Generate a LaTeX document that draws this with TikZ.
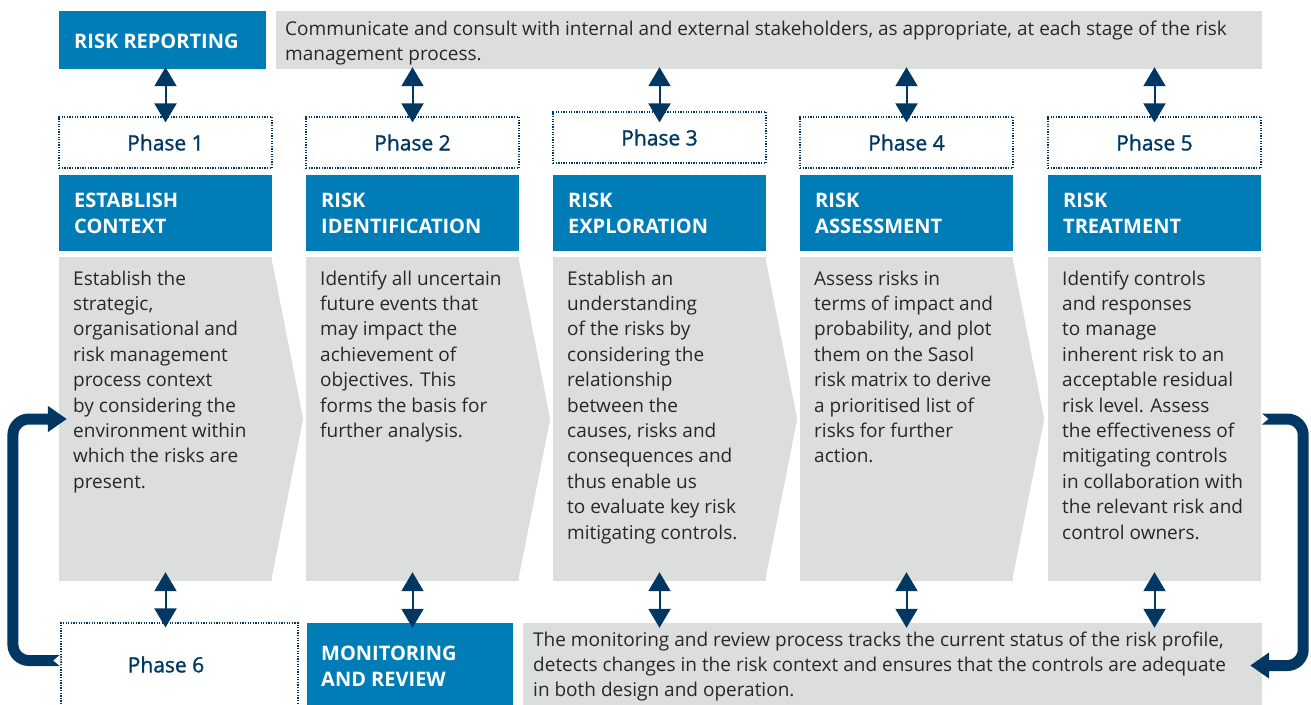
\documentclass[tikz,border=0pt]{standalone}
\usepackage{fontspec}
\setmainfont{Open Sans}
\newfontfamily\phasefam[FakeBold=1.3]{Open Sans}
\usetikzlibrary{arrows.meta,calc}
\definecolor{sblue}{RGB}{0,125,183}
\definecolor{sgrey}{RGB}{220,221,221}
\definecolor{snavy}{RGB}{0,56,99}
\definecolor{stext}{RGB}{40,40,40}
\newcommand\bodyfont{\fontsize{19}{25.4}\selectfont}
\newcommand\headfont{\fontsize{20}{26}\selectfont\bfseries}
\newcommand\phfont{\phasefam\fontsize{21}{24}\selectfont}
\newcommand\tbox[2]{\parbox[t]{#1}{\raggedright #2}}
\begin{document}
\begin{tikzpicture}[x=1pt,y=-1pt,
 bluebox/.style={fill=sblue, inner sep=0pt, minimum width=213pt, minimum height=76pt},
 phasebox/.style={draw=snavy, line width=1.2pt, dash pattern=on 1.3pt off 1.3pt, fill=white, inner sep=0pt, minimum width=213pt, minimum height=51pt, font=\phfont, text=snavy},
 phaselabel/.style={inner sep=0pt, font=\phfont, text=snavy},
 panel/.style={fill=sgrey, inner sep=0pt, minimum width=213pt, minimum height=324pt},
 bodytext/.style={anchor=base west, inner sep=0pt, font=\bodyfont, text=stext},
 headtext/.style={anchor=base west, inner sep=0pt, font=\headfont, text=white},
 dblarrow/.style={snavy, line width=2pt, {Triangle[width=22pt,length=19pt]}-{Triangle[width=22pt,length=19pt]}},
 looparrow/.style={snavy, line width=11pt, rounded corners=16pt, -{Triangle[width=25pt,length=19pt]}},
 notch/.style={fill=white}]
\useasboundingbox (0,0) rectangle (1311,704);

% top row
\node[fill=sblue, inner sep=0pt, minimum width=207pt, minimum height=58pt] (rr) at (162.5,40) {};
\node[headtext] (rrt) at (74,48) {RISK REPORTING};
\node[fill=sgrey, inner sep=0pt, minimum width=986pt, minimum height=58pt] (cb) at (769,40) {};
\node[bodytext] (cbt) at (285,35) {\tbox{975pt}{Communicate and consult with internal and external stakeholders, as appropriate, at each stage of the risk\\management process.}};

% phase boxes
\node[phasebox] (p1) at (165.5,142.5) {Phase 1};
\node[phasebox] (p2) at (412.5,142.5) {Phase 2};
\node[phasebox] (p3) at (659.5,137.5) {Phase 3};
\node[phasebox] (p4) at (906.5,142.5) {Phase 4};
\node[phasebox] (p5) at (1154.5,142.5) {Phase 5};

% heading boxes
\node[bluebox] (h1) at (165.5,213) {};
\node[bluebox] (h2) at (412.5,213) {};
\node[bluebox] (h3) at (659.5,213) {};
\node[bluebox] (h4) at (906.5,213) {};
\node[bluebox] (h5) at (1154.5,213) {};
\node[headtext] (h1t) at (74,207) {\tbox{200pt}{ESTABLISH\\CONTEXT}};
\node[headtext] (h2t) at (321,207) {\tbox{200pt}{RISK\\IDENTIFICATION}};
\node[headtext] (h3t) at (568,207) {\tbox{200pt}{RISK\\EXPLORATION}};
\node[headtext] (h4t) at (815,207) {\tbox{200pt}{RISK\\ASSESSMENT}};
\node[headtext] (h5t) at (1063,207) {\tbox{200pt}{RISK\\TREATMENT}};

% panels
\node[panel] (g1) at (165.5,419) {};
\node[panel] (g2) at (412.5,419) {};
\node[panel] (g3) at (659.5,419) {};
\node[panel] (g4) at (906.5,419) {};
\node[panel] (g5) at (1154.5,419) {};
\foreach \g in {g1,g2,g3,g4}{
  \fill[sgrey] ([yshift=-5pt]\g.north east) -- ([xshift=31pt]\g.east) -- ([yshift=6pt]\g.south east) -- cycle;
}
\node[bodytext] (b1) at (73,285) {\tbox{230pt}{Establish the\\strategic,\\organisational and\\risk management\\process context\\by considering the\\environment within\\which the risks are\\present.}};
\node[bodytext] (b2) at (320,285) {\tbox{230pt}{Identify all uncertain\\future events that\\may impact the\\achievement of\\objectives. This\\forms the basis for\\further analysis.}};
\node[bodytext] (b3) at (567,285) {\tbox{230pt}{Establish an\\understanding\\of the risks by\\considering the\\relationship\\between the\\causes, risks and\\consequences and\\thus enable us\\to evaluate key risk\\mitigating controls.}};
\node[bodytext] (b4) at (814,285) {\tbox{230pt}{Assess risks in\\terms of impact and\\probability, and plot\\them on the Sasol\\risk matrix to derive\\a prioritised list of\\risks for further\\action.}};
\node[bodytext] (b5) at (1062,285) {\tbox{230pt}{Identify controls\\and responses\\to manage\\inherent risk to an\\acceptable residual\\risk level. Assess\\the effectiveness of\\mitigating controls\\in collaboration with\\the relevant risk and\\control owners.}};

% bottom row
\node[phasebox, minimum width=237pt, minimum height=83pt] (p6) at (179.5,664.5) {};
\node[phaselabel] (p6t) at (166,664.5) {Phase 6};
\node[fill=sblue, inner sep=0pt, minimum width=206pt, minimum height=83pt] (mon) at (410,664.5) {};
\node[headtext] (mont) at (321,660) {\tbox{190pt}{MONITORING\\AND REVIEW}};
\node[fill=sgrey, inner sep=0pt, minimum width=739pt, minimum height=83pt] (bb) at (892.5,664.5) {};
\node[bodytext] (bbt) at (533,646) {\tbox{735pt}{The monitoring and review process tracks the current status of the risk profile,\\detects changes in the risk context and ensures that the controls are adequate\\in both design and operation.}};

% top arrows
\draw[dblarrow] ([yshift=2pt]rr.south -| p1.north) -- ([yshift=-6pt]p1.north);
\draw[dblarrow] ([yshift=2pt]cb.south -| p2.north) -- ([yshift=-6pt]p2.north);
\draw[dblarrow] ([yshift=2pt]cb.south -| p3.north) -- ([yshift=-11pt]p3.north);
\draw[dblarrow] ([yshift=2pt]cb.south -| p4.north) -- ([yshift=-6pt]p4.north);
\draw[dblarrow] ([yshift=2pt]cb.south -| p5.north) -- ([yshift=-6pt]p5.north);

% bottom arrows
\draw[dblarrow] ([yshift=9pt]g1.south) -- ([yshift=-5pt]g1.south |- p6.north);
\draw[dblarrow] ([yshift=9pt]g2.south) -- ([yshift=-5pt]g2.south |- mon.north);
\draw[dblarrow] ([yshift=9pt]g3.south) -- ([yshift=-5pt]g3.south |- bb.north);
\draw[dblarrow] ([yshift=9pt]g4.south) -- ([yshift=-5pt]g4.south |- bb.north);
\draw[dblarrow] ([yshift=9pt]g5.south) -- ([yshift=-5pt]g5.south |- bb.north);

% loop arrows
\draw[looparrow] ([yshift=4pt]p6.west) -- ++(-47.5,0) |- ([xshift=8pt]g1.west);
\fill[notch] ([yshift=10pt]p6.west) -- ([xshift=-7pt,yshift=4pt]p6.west) -- ([yshift=-2pt]p6.west) -- cycle;
\draw[looparrow] (g5.east) -- ++(42,0) |- ([xshift=-12pt,yshift=-1pt]bb.east);
\fill[notch] ([yshift=6pt]g5.east) -- ([xshift=7pt]g5.east) -- ([yshift=-6pt]g5.east) -- cycle;
\end{tikzpicture}
\end{document}
